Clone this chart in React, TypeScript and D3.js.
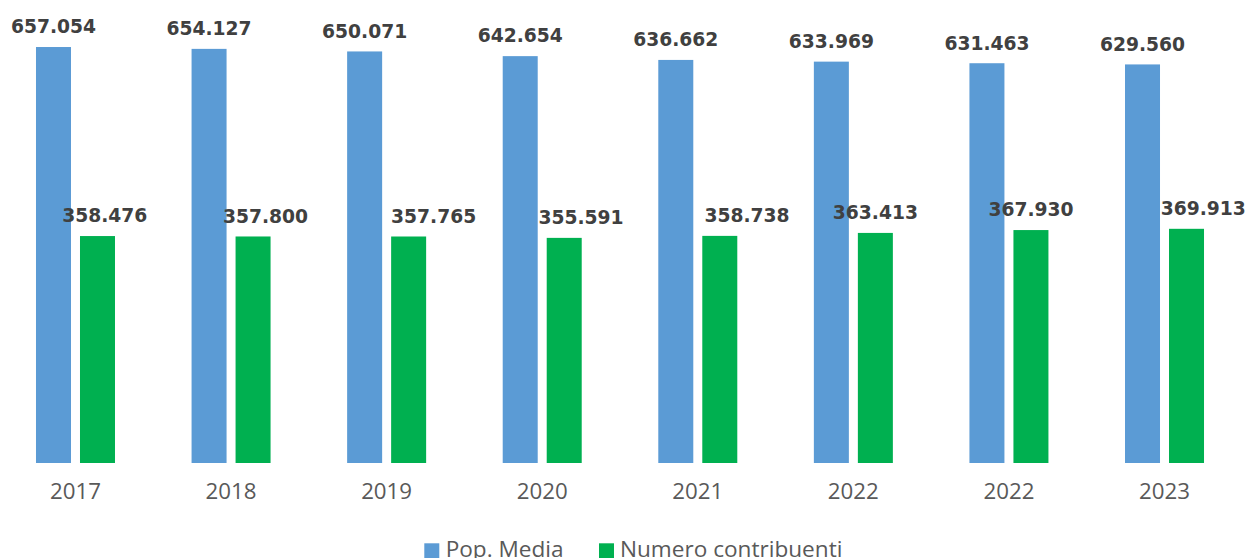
import React from "react";
import * as d3 from "d3";

const categories = ["2017", "2018", "2019", "2020", "2021", "2022", "2022", "2023"];
const popMedia = [657.054, 654.127, 650.071, 642.654, 636.662, 633.969, 631.463, 629.56];
const contribuenti = [358.476, 357.8, 357.765, 355.591, 358.738, 363.413, 367.93, 369.913];
const seriesNames = ["Pop. Media", "Numero contribuenti"];

// label horizontal nudges for green labels (layout only)
const greenLabelDx = [7.2, 12.4, 25, 16.8, 27.2, 0, 0, 16.8];

const W = 1247;
const H = 558;
const BLUE = "#5B9BD5";
const GREEN = "#00B050";
const fmt = (v: number) => v.toFixed(3);

export default function App() {
  const x = d3
    .scaleBand<number>()
    .domain(categories.map((_, i) => i))
    .range([-2.3, 1242.3])
    .paddingInner(0)
    .paddingOuter(0);
  const y = d3.scaleLinear().domain([0, 700]).range([463, 463 - 700 * 0.6331]);
  const barW = 35;
  const gap = 9;
  const labelFont = "'DejaVu Sans', Verdana, sans-serif";
  const axisFont = "'Open Sans', 'Noto Sans', sans-serif";

  return (
    <svg
      width={W}
      height={H}
      style={{ position: "absolute", left: 0, top: 0, background: "#fff" }}
    >
      {categories.map((c, i) => {
        const cx = (x(i) as number) + x.bandwidth() / 2;
        const bx = cx - gap / 2 - barW;
        const gx = cx + gap / 2;
        const by = y(popMedia[i]);
        const gy = y(contribuenti[i]);
        return (
          <g key={i}>
            <rect x={bx} y={by} width={barW} height={y(0) - by} fill={BLUE} />
            <rect x={gx} y={gy} width={barW} height={y(0) - gy} fill={GREEN} />
            <text
              x={bx + barW / 2}
              y={by - 13.7}
              textAnchor="middle"
              fontFamily={labelFont}
              fontWeight="bold"
              fontSize={18.7}
              fill="#404040"
            >
              {fmt(popMedia[i])}
            </text>
            <text
              x={gx + barW / 2 + greenLabelDx[i]}
              y={gy - 13.7}
              textAnchor="middle"
              fontFamily={labelFont}
              fontWeight="bold"
              fontSize={18.7}
              fill="#404040"
            >
              {fmt(contribuenti[i])}
            </text>
            <text
              x={cx}
              y={499}
              textAnchor="middle"
              fontFamily={axisFont}
              fontSize={22.3}
              fill="#595959"
            >
              {c}
            </text>
          </g>
        );
      })}
      <g>
        <rect x={424.3} y={543.3} width={15} height={15} fill={BLUE} />
        <text x={445.7} y={556.5} fontFamily={axisFont} fontSize={22.6} fill="#595959">
          {seriesNames[0]}
        </text>
        <rect x={599} y={543.3} width={15} height={15} fill={GREEN} />
        <text x={620} y={556.5} fontFamily={axisFont} fontSize={22.6} fill="#595959">
          {seriesNames[1]}
        </text>
      </g>
    </svg>
  );
}
